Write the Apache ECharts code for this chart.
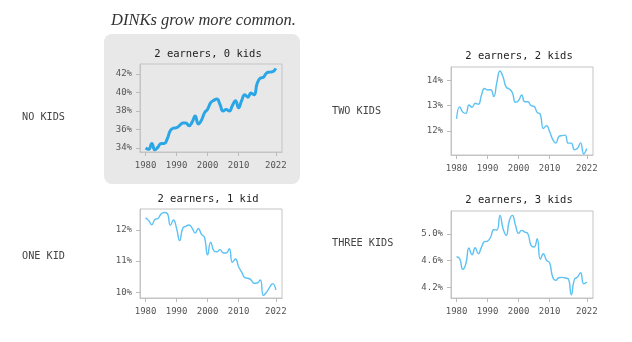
<!DOCTYPE html>
<html>
<head>
<meta charset="utf-8">
<script src="https://cdn.jsdelivr.net/npm/echarts@6/dist/echarts.min.js"></script>
<style>
html,body{margin:0;padding:0;background:#fff;}
#chart{width:632px;height:342px;}
</style>
</head>
<body>
<div id="chart"></div>
<script>
const years = [1980,1981,1982,1983,1984,1985,1986,1987,1988,1989,1990,1991,1992,1993,1994,1995,1996,1997,1998,1999,2000,2001,2002,2003,2004,2005,2006,2007,2008,2009,2010,2011,2012,2013,2014,2015,2016,2017,2018,2019,2020,2021,2022];
const noKids = [34.0,33.86,34.5,33.8,34.1,34.5,34.5,35.0,35.9,36.15,36.2,36.45,36.7,36.7,36.4,36.8,37.45,36.6,37.0,37.8,38.2,38.9,39.15,39.3,38.7,38.0,38.15,38.0,38.6,39.1,38.35,39.15,39.75,39.5,39.95,39.75,41.0,41.55,41.65,42.1,42.2,42.25,42.6];
const oneKid = [12.39,12.3,12.17,12.34,12.37,12.51,12.56,12.53,12.15,12.32,12.05,11.66,12.06,12.12,12.16,12.06,11.9,12.05,11.87,11.76,11.2,11.61,11.34,11.3,11.37,11.27,11.26,11.4,10.96,11.07,10.82,10.65,10.47,10.45,10.4,10.29,10.3,10.4,9.9,10.0,10.16,10.28,10.08];
const twoKids = [12.48,12.95,12.74,12.69,13.02,12.93,13.09,13.05,13.4,13.68,13.62,13.63,13.36,13.93,14.37,14.13,13.73,13.66,13.51,13.13,13.2,13.42,13.15,13.15,13.0,12.97,12.73,12.65,12.09,12.2,11.97,11.66,11.51,11.77,11.81,11.83,11.51,11.51,11.25,11.31,11.52,11.09,11.3];
const threeKids = [4.66,4.63,4.47,4.555,4.79,4.69,4.795,4.705,4.8,4.885,4.895,4.955,5.065,5.06,5.28,5.08,4.98,5.2,5.28,5.13,5.01,5.055,5.03,5.005,4.83,4.805,4.93,4.62,4.705,4.605,4.57,4.355,4.305,4.345,4.35,4.34,4.33,4.09,4.32,4.355,4.42,4.255,4.28];
const xTicks = [1980,1990,2000,2010,2022];
const yTicksNo = [34,36,38,40,42];
const yTicksOne = [10,11,12];
const yTicksTwo = [12,13,14];
const yTicksThree = [4.2,4.6,5.0];
const panelTitles = ['2 earners, 0 kids','2 earners, 1 kid','2 earners, 2 kids','2 earners, 3 kids'];
const rowLabels = ['NO KIDS','ONE KID','TWO KIDS','THREE KIDS'];
const mainTitle = 'DINKs grow more common.';

const mono = 'DejaVu Sans Mono';
const panels = [
  {data: noKids, ticks: yTicksNo, dec: 0, grid:{left:140,top:64,width:142,height:88}, ymin:33.57, ymax:43.08, width:3, color:'#2aa6e6', title:panelTitles[0], tx:208, ty:54},
  {data: oneKid, ticks: yTicksOne, dec: 0, grid:{left:140,top:209,width:142,height:89}, ymin:9.817, ymax:12.674, width:1.4, color:'#5cc2f4', title:panelTitles[1], tx:208, ty:199},
  {data: twoKids, ticks: yTicksTwo, dec: 0, grid:{left:451,top:67,width:142,height:88}, ymin:11.04, ymax:14.53, width:1.4, color:'#5cc2f4', title:panelTitles[2], tx:519, ty:56},
  {data: threeKids, ticks: yTicksThree, dec: 1, grid:{left:451,top:211,width:142,height:87}, ymin:4.041, ymax:5.345, width:1.4, color:'#5cc2f4', title:panelTitles[3], tx:519, ty:200}
];

const chart = echarts.init(document.getElementById('chart'), null, {renderer:'canvas'});
const grids = [], xAxes = [], yAxes = [], series = [];
const graphics = [
  {type:'rect', z:-10, shape:{x:104,y:34,width:196,height:150,r:8}, style:{fill:'#e8e8e8'}},
  {type:'text', x:111, y:21, style:{text:mainTitle, font:'italic 16.5px "Liberation Serif"', fill:'#333', textVerticalAlign:'middle'}},
  {type:'text', x:22, y:117, style:{text:rowLabels[0], font:'10.2px "DejaVu Sans Mono"', fill:'#444', textVerticalAlign:'middle'}},
  {type:'text', x:22, y:256, style:{text:rowLabels[1], font:'10.2px "DejaVu Sans Mono"', fill:'#444', textVerticalAlign:'middle'}},
  {type:'text', x:332, y:111, style:{text:rowLabels[2], font:'10.2px "DejaVu Sans Mono"', fill:'#444', textVerticalAlign:'middle'}},
  {type:'text', x:332, y:243, style:{text:rowLabels[3], font:'10.2px "DejaVu Sans Mono"', fill:'#444', textVerticalAlign:'middle'}}
];
panels.forEach((p, i) => {
  grids.push(Object.assign({show:true, borderColor:'#c4c4c4', borderWidth:1, backgroundColor:'transparent'}, p.grid));
  xAxes.push({
    type:'value', gridIndex:i, min:1978.2, max:2024,
    axisLine:{show:true, lineStyle:{color:'#c4c4c4'}},
    axisTick:{show:true, length:4, customValues:xTicks, lineStyle:{color:'#bbb'}},
    axisLabel:{customValues:xTicks, fontFamily:mono, fontSize:9, color:'#555', margin:9, formatter:v=>String(v)},
    splitLine:{show:false}
  });
  yAxes.push({
    type:'value', gridIndex:i, min:p.ymin, max:p.ymax,
    axisLine:{show:true, lineStyle:{color:'#c4c4c4'}},
    axisTick:{show:true, length:4, customValues:p.ticks, lineStyle:{color:'#bbb'}},
    axisLabel:{customValues:p.ticks, fontFamily:mono, fontSize:9, color:'#555', margin:8, formatter:v=>v.toFixed(p.dec)+'%'},
    splitLine:{show:false}
  });
  series.push({
    type:'line', xAxisIndex:i, yAxisIndex:i, smooth:0.5, symbol:'none',
    data: years.map((y, k) => [y, p.data[k]]),
    lineStyle:{width:p.width, color:p.color}
  });
  graphics.push({type:'text', x:p.tx, y:p.ty, style:{text:p.title, font:'10.5px "DejaVu Sans Mono"', fill:'#222', textAlign:'center', textVerticalAlign:'middle'}});
});
chart.setOption({
  animation:false,
  backgroundColor:'#fff',
  grid:grids, xAxis:xAxes, yAxis:yAxes, series:series,
  graphic:{elements:graphics}
});
</script>
</body>
</html>
